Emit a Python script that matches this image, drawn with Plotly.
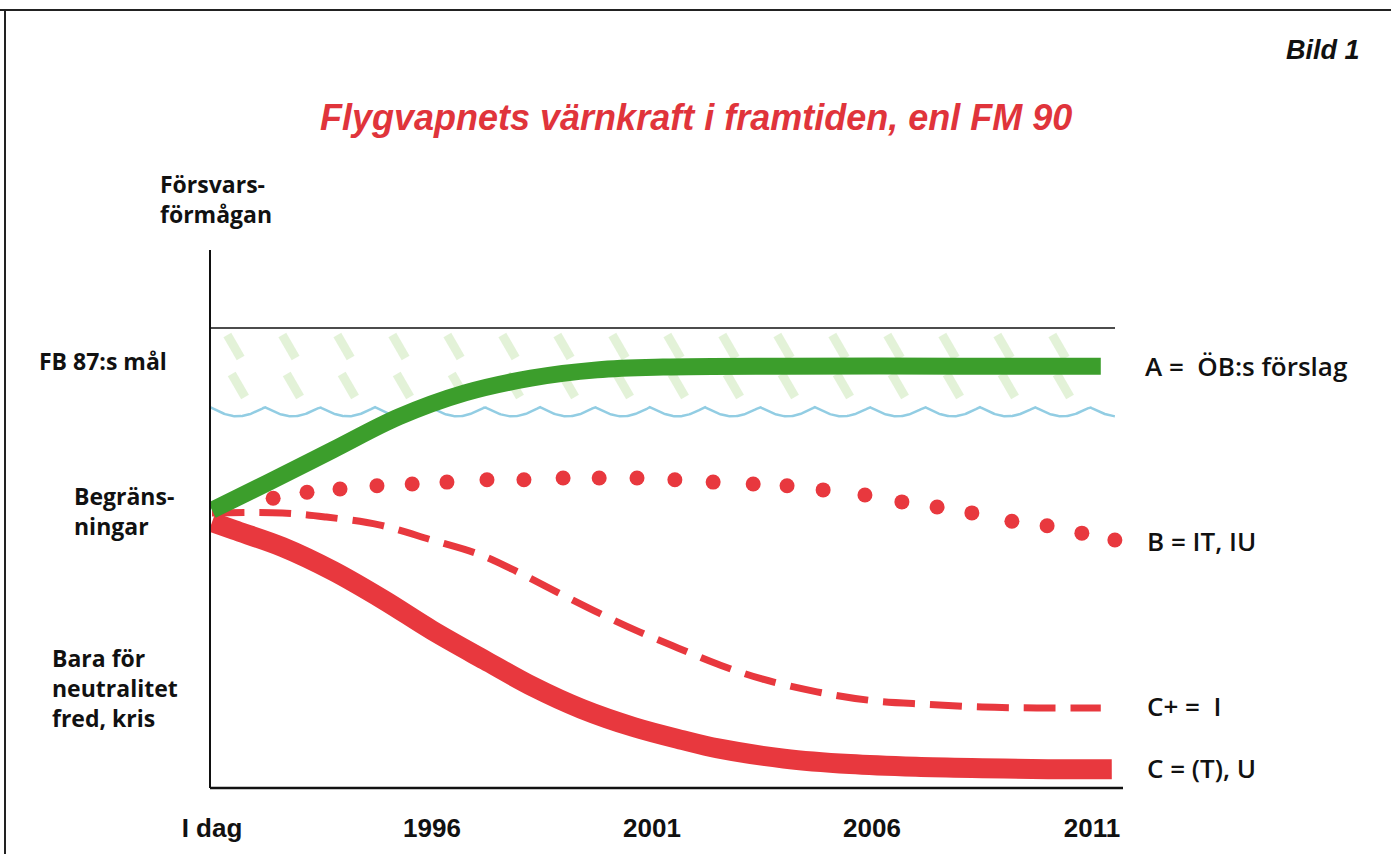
import numpy as np
import plotly.graph_objects as go

# ---------------- data ----------------
tick_years = [1991, 1996, 2001, 2006, 2011]
tick_labels = ["I dag", "1996", "2001", "2006", "2011"]

# A = ÖB:s förslag (green, solid thick)
a_years = [1991, 1992.25, 1993.75, 1995.25, 1996.75, 1998.25, 1999.75, 2001.25, 2004, 2008, 2011.2]
a_vals = [60.4, 66.3, 73.5, 80.7, 85.9, 89.1, 90.9, 91.5, 91.7, 91.7, 91.7]

# B = IT, IU (red dots)
b_years = [1992.39, 1993.16, 1993.91, 1994.75, 1995.55, 1996.34, 1997.25, 1998.09, 1998.98,
           1999.80, 2000.66, 2001.52, 2002.39, 2003.30, 2004.07, 2004.89, 2005.84, 2006.68,
           2007.48, 2008.27, 2009.18, 2009.98, 2010.77, 2011.52]
b_vals = [63.0, 64.3, 65.0, 65.7, 66.1, 66.5, 67.0, 67.0, 67.4, 67.4, 67.4, 67.0, 66.5,
          66.1, 65.7, 64.8, 63.7, 62.2, 61.1, 59.8, 58.0, 57.0, 55.4, 53.9]

# C+ = I (red dashed)
cp_years = [1991, 1992.6, 1993.6, 1994.8, 1996.0, 1997.1, 1998.0, 1998.9, 1999.8, 2000.7,
            2001.6, 2002.5, 2003.5, 2004.75, 2006.0, 2007.25, 2008.5, 2009.75, 2011.2]
cp_vals = [59.8, 59.8, 58.9, 57.2, 53.9, 50.7, 46.7, 42.3, 38.0, 34.0, 30.4, 26.9, 23.7,
           20.9, 19.0, 18.2, 17.6, 17.4, 17.4]

# C = (T), U (red solid thick)
c_years = [1991, 1991.5, 1992.6, 1993.75, 1994.9, 1996.0, 1997.2, 1998.3, 1999.4, 2000.6,
           2001.7, 2002.5, 2004.0, 2005.5, 2007.0, 2008.5, 2010.0, 2011.45]
c_vals = [57.8, 56.1, 52.4, 47.2, 40.9, 34.3, 27.8, 22.0, 17.2, 13.2, 10.4, 8.6, 6.4, 5.2,
          4.6, 4.3, 4.1, 4.1]

level_band_low = 82.8   # lower edge of hatched band (wavy line)

# ---------------- layout geometry ----------------
W, H = 1391, 854
L, R, T, B = 210, 268, 328, 66
PW, PH = W - L - R, H - T - B
X0, X1 = 1990.955, 2011.705


def px(xp):
    return (xp - L) / PW


def py(yp):
    return (H - B - yp) / PH


GREEN = "#3c9e2c"
RED = "#e8383e"
BLUE = "#92cde3"
FONT = "Open Sans"

fig = go.Figure()

# hatched band texture (light green strokes)
hx = np.arange(1991.5, 2011.3, 1.25)
rows = [96.0, 87.5]
hxx = np.concatenate([hx + (0.0 if i == 0 else 0.1) for i, _ in enumerate(rows)])
hyy = np.concatenate([[r] * len(hx) for r in rows])
fig.add_trace(go.Scatter(
    x=hxx, y=hyy, mode="markers", hoverinfo="skip", showlegend=False,
    marker=dict(symbol="line-ns", size=19, angle=-30,
                line=dict(color="rgba(168,216,135,0.32)", width=9))))

# scalloped blue line (lower edge of the band)
wx = np.linspace(X0, 2011.52, 900)
wy = level_band_low - 2.0 * np.abs(np.sin(np.pi * (wx - X0) / 1.25))
fig.add_trace(go.Scatter(x=wx, y=wy, mode="lines", hoverinfo="skip", showlegend=False,
                         line=dict(color=BLUE, width=2.5)))

# C (solid red)
fig.add_trace(go.Scatter(x=c_years, y=c_vals, mode="lines", name="C = (T), U",
                         line=dict(color=RED, width=20, shape="spline", smoothing=1)))
# C+ (dashed red)
fig.add_trace(go.Scatter(x=cp_years, y=cp_vals, mode="lines", name="C+ = I",
                         line=dict(color=RED, width=7, dash="32px,15px", shape="spline",
                                   smoothing=1)))
# A (green)
fig.add_trace(go.Scatter(x=a_years, y=a_vals, mode="lines", name="A = ÖB:s förslag",
                         line=dict(color=GREEN, width=17, shape="spline", smoothing=1)))
# B (dots)
fig.add_trace(go.Scatter(x=b_years, y=b_vals, mode="markers", name="B = IT, IU",
                         marker=dict(color=RED, size=15, line=dict(width=0))))

shapes = [
    # page frame
    dict(type="line", xref="paper", yref="paper", x0=px(0), x1=px(W), y0=py(10), y1=py(10),
         line=dict(color="#222", width=2)),
    dict(type="line", xref="paper", yref="paper", x0=px(5), x1=px(5), y0=py(10), y1=py(H),
         line=dict(color="#222", width=2)),
    # y-axis line (extends above plot)
    dict(type="line", xref="paper", yref="paper", x0=0, x1=0, y0=0, y1=py(250),
         line=dict(color="#111", width=2)),
    # top line of band
    dict(type="line", xref="paper", yref="paper", x0=0, x1=px(1115), y0=1, y1=1,
         line=dict(color="#111", width=1.6)),
    # x-axis line
    dict(type="line", xref="paper", yref="paper", x0=0, x1=1, y0=0, y1=0,
         line=dict(color="#111", width=2.5)),
]

lab = dict(family=FONT, size=23, color="#111", weight="bold")
rlab = dict(family=FONT, size=26, color="#111", weight=600)
ann = []
NB = "\u00a0"


def add(text, xp, yp, anchor="left", font=None, align="left"):
    ann.append(dict(text=text, xref="paper", yref="paper", x=px(xp), y=py(yp),
                    xanchor=anchor, yanchor="middle", showarrow=False, align=align,
                    font=font or lab))


add("<i>Bild 1</i>", 1362, 50, anchor="right",
    font=dict(family="Liberation Sans", size=27, color="#111", weight="bold"))
ann.append(dict(text="<i>Flygvapnets värnkraft i framtiden, enl FM 90</i>",
                xref="paper", yref="paper", x=px(696), y=py(117), xanchor="center",
                yanchor="middle", showarrow=False,
                font=dict(family="Liberation Sans", size=36, color="#e0343b",
                          weight="bold")))
add("Försvars-<br>förmågan", 158, 199)
add("FB 87:s mål", 37, 361)
add("Begräns-<br>ningar", 72, 511)
add("Bara för<br>neutralitet<br>fred, kris", 50, 688)
add("A" + NB + "=" + NB + NB + "ÖB:s förslag", 1143, 366, font=rlab)
add("B" + NB + "=" + NB + "IT, IU", 1145, 541, font=rlab)
add("C+" + NB + "=" + NB + NB + "I", 1145, 706, font=rlab)
add("C" + NB + "=" + NB + "(T), U", 1145, 768, font=rlab)

fig.update_layout(
    width=W, height=H, autosize=False,
    margin=dict(l=L, r=R, t=T, b=B),
    paper_bgcolor="white", plot_bgcolor="white",
    showlegend=False,
    xaxis=dict(range=[X0, X1], tickvals=tick_years, ticktext=tick_labels,
               showgrid=False, zeroline=False, showline=False, ticks="",
               ticklabelstandoff=22,
               tickfont=dict(family="Liberation Sans", size=26, color="#111",
                             weight="bold"),
               fixedrange=True),
    yaxis=dict(range=[0, 100], showgrid=False, zeroline=False, showline=False,
               showticklabels=False, ticks="", fixedrange=True),
    shapes=shapes, annotations=ann,
)

fig.write_html("out.html", config={"displayModeBar": False},
               post_script="document.body.style.margin='0';")
